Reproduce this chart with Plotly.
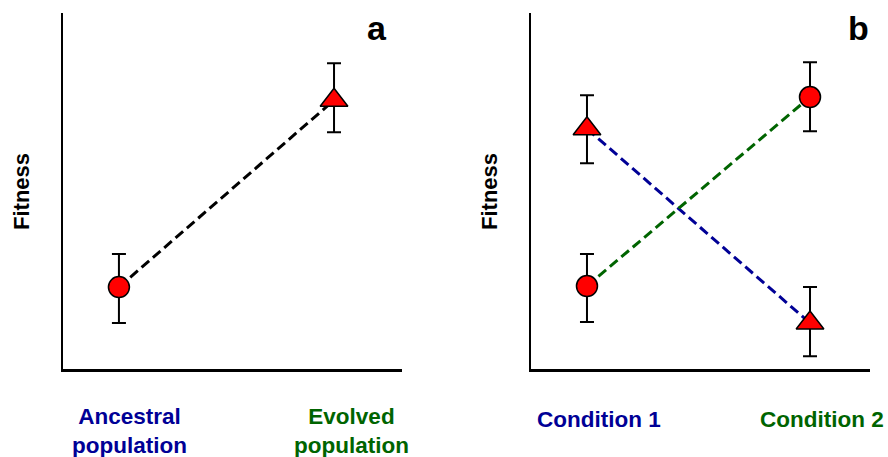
import plotly.graph_objects as go

# ---- data ----
panel_a_categories = ["Ancestral<br>population", "Evolved<br>population"]
panel_a_fitness = [2.30, 7.55]
panel_a_err_plus = [0.93, 1.04]
panel_a_err_minus = [1.01, 0.90]
panel_a_symbols = ["circle", "triangle-up"]

panel_b_categories = ["Condition 1", "Condition 2"]
panel_b_triangle_fitness = [6.75, 1.29]
panel_b_triangle_err_plus = [0.94, 1.01]
panel_b_triangle_err_minus = [0.97, 0.93]
panel_b_circle_fitness = [2.33, 7.64]
panel_b_circle_err_plus = [0.90, 0.98]
panel_b_circle_err_minus = [1.01, 0.96]

y_label = "Fitness"
panel_letters = ["a", "b"]

BLUE = "#000096"
GREEN = "#006400"
RED = "#ff0000"
FONT = "Liberation Sans, Arial, sans-serif"
W, H = 888, 457

def px(x):
    return x / W

def py(y):
    return 1 - y / H

fig = go.Figure()

def sizes(symbols):
    return [24 if s.startswith("triangle") else 21 for s in symbols]

def add_series(xaxis, yaxis, yvals, plus, minus, symbols, color):
    fig.add_trace(go.Scatter(
        x=[0, 1], y=yvals, xaxis=xaxis, yaxis=yaxis,
        mode="lines+markers", opacity=1,
        line=dict(color=color, width=3, dash="10px,5px"),
        marker=dict(symbol=symbols, size=sizes(symbols), color=RED, opacity=1,
                    line=dict(color="black", width=1.5)),
        error_y=dict(type="data", symmetric=False, array=plus, arrayminus=minus,
                     color="black", thickness=2, width=7),
        showlegend=False, hoverinfo="skip",
    ))

add_series("x", "y", panel_a_fitness, panel_a_err_plus, panel_a_err_minus,
           panel_a_symbols, "black")
add_series("x2", "y2", panel_b_triangle_fitness, panel_b_triangle_err_plus,
           panel_b_triangle_err_minus, ["triangle-up", "triangle-up"], BLUE)
add_series("x2", "y2", panel_b_circle_fitness, panel_b_circle_err_plus,
           panel_b_circle_err_minus, ["circle", "circle"], GREEN)

axis_common = dict(showline=True, linecolor="black", linewidth=2.5,
                   showgrid=False, zeroline=False, showticklabels=False,
                   ticks="", fixedrange=True)

yd = [py(369), py(13)]
fig.update_layout(
    width=W, height=H, autosize=False,
    margin=dict(l=0, r=0, t=0, b=0),
    paper_bgcolor="white", plot_bgcolor="white",
    xaxis=dict(domain=[px(63), px(402)], range=[-0.260, 1.316], anchor="y", **axis_common),
    yaxis=dict(domain=yd, range=[0, 10], anchor="x", **axis_common),
    xaxis2=dict(domain=[px(531), px(870)], range=[-0.251, 1.269], anchor="y2", **axis_common),
    yaxis2=dict(domain=yd, range=[0, 10], anchor="x2", **axis_common),
)

ann = []
# category labels
cat_pos_a = [129, 351]
cat_colors = [BLUE, GREEN]
for i, lab in enumerate(panel_a_categories):
    ann.append(dict(x=px(cat_pos_a[i]), y=py(431), text="<b>%s</b>" % lab,
                    font=dict(family=FONT, size=22.5, color=cat_colors[i])))
cat_pos_b = [599, 822]
for i, lab in enumerate(panel_b_categories):
    ann.append(dict(x=px(cat_pos_b[i]), y=py(419), text="<b>%s</b>" % lab,
                    font=dict(family=FONT, size=22.5, color=cat_colors[i])))
# y-axis titles
for xx in [21, 489]:
    ann.append(dict(x=px(xx), y=py(192), text="<b>%s</b>" % y_label, textangle=-90,
                    font=dict(family=FONT, size=22, color="black")))
# panel letters
for xx, letter in zip([377, 858], panel_letters):
    ann.append(dict(x=px(xx), y=py(28), text="<b>%s</b>" % letter,
                    font=dict(family=FONT, size=34, color="black")))

for a in ann:
    a.update(xref="paper", yref="paper", showarrow=False,
             xanchor="center", yanchor="middle", align="center")
fig.update_layout(annotations=ann)

fig.write_html("out.html", config={"displayModeBar": False, "staticPlot": True},
               post_script="document.body.style.margin='0';document.body.style.overflow='hidden';")
